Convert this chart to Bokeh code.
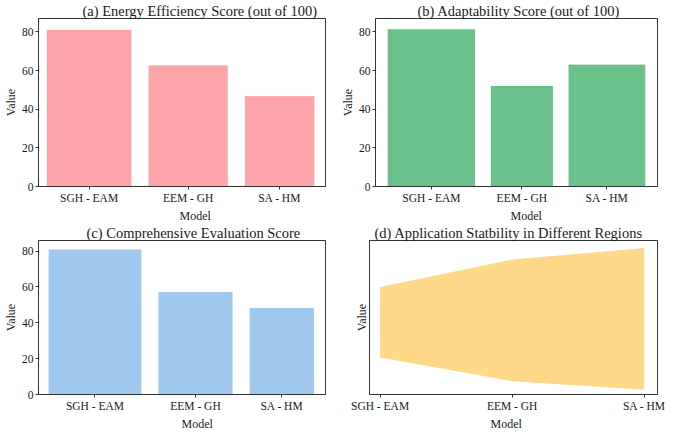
from bokeh.plotting import figure
from bokeh.layouts import column, row
from bokeh.models import Range1d, FixedTicker, Title
from bokeh.embed import file_html
from bokeh.resources import INLINE

# ---------------- data ----------------
categories = ["SGH - EAM", "EEM - GH", "SA - HM"]
energy_scores = [81.3, 62.9, 47.0]
adaptability_scores = [81.6, 52.3, 63.3]
comprehensive_scores = [81.2, 57.4, 48.5]
stability_upper = [0.35, 0.64, 0.76]
stability_lower = [-0.39, -0.64, -0.73]
value_ticks = [0, 20, 40, 60, 80]

# relative bar widths (variable-width bars)
energy_widths = [88.7, 83.0, 73.0]
adaptability_widths = [91.0, 65.0, 80.0]
comprehensive_widths = [97.7, 78.3, 68.3]

FONT = "Liberation Serif"
AX = "#333333"
TXT = "#1a1a1a"


def bar_centers(widths, gap):
    out = []
    x = 0.0
    for w in widths:
        out.append(round(x + w / 2.0, 2))
        x += w + gap
    return out, x - gap


def make_fig(w, h, left, right, top, bottom, xr, yr, title, title_offset, model_offset):
    p = figure(width=w, height=h, x_range=xr, y_range=yr,
               toolbar_location=None, tools="", output_backend="svg",
               min_border=0,
               min_border_left=left, min_border_right=right,
               min_border_top=top, min_border_bottom=bottom)
    p.grid.visible = False
    p.outline_line_color = AX
    p.outline_line_width = 1
    p.background_fill_color = "white"
    p.border_fill_color = "white"
    p.title.text = title
    p.title.align = "left"
    p.title.offset = title_offset
    p.title.standoff = 0
    p.title.text_font = FONT
    p.title.text_font_size = "14.5px"
    p.title.text_font_style = "normal"
    p.title.text_color = TXT
    for ax in (p.xaxis[0], p.yaxis[0]):
        ax.axis_line_color = AX
        ax.major_tick_line_color = AX
        ax.major_tick_in = 0
        ax.major_tick_out = 3
        ax.minor_tick_line_color = None
        ax.major_label_text_font = FONT
        ax.major_label_text_font_size = "11.5px"
        ax.major_label_text_color = TXT
        ax.major_label_standoff = 2
        ax.axis_label_text_font = FONT
        ax.axis_label_text_font_size = "12px"
        ax.axis_label_text_font_style = "normal"
        ax.axis_label_text_color = TXT
        ax.axis_label_standoff = 1
    p.xaxis[0].axis_label = None
    p.xaxis[0].axis_label_standoff = 0
    p.yaxis[0].axis_label = "Value"
    p.add_layout(Title(text="Model", align="left", offset=model_offset, standoff=0,
                       text_font=FONT, text_font_size="12px", text_font_style="normal",
                       text_color=TXT), "below")
    return p


def bar_panel(values, widths, gap, pad_l, pad_r, ymax, color, w, h, left, right, top, bottom,
              title, title_offset, model_offset):
    cx, total = bar_centers(widths, gap)
    p = make_fig(w, h, left, right, top, bottom,
                 Range1d(-pad_l, total + pad_r), Range1d(0, ymax), title, title_offset,
                 model_offset)
    p.vbar(x=cx, top=values, width=widths, bottom=0, fill_color=color,
           line_color="white", line_width=1)
    p.xaxis[0].ticker = FixedTicker(ticks=cx)
    p.xaxis[0].major_label_overrides = {c: lab for c, lab in zip(cx, categories)}
    p.yaxis[0].ticker = FixedTicker(ticks=value_ticks)
    return p


# (a)
pa = bar_panel(energy_scores, energy_widths, 16.7, 8, 11, 86.9, "#FDA4A9",
               337, 222, 31, 12, 11, 0,
               "(a) Energy Efficiency Score (out of 100)", 44, 141)
# (b)
pb = bar_panel(adaptability_scores, adaptability_widths, 15.0, 12, 12, 86.9, "#6BC18A",
               332, 222, 31, 12, 11, 0,
               "(b) Adaptability Score (out of 100)", 42, 135)
# (c)
pc = bar_panel(comprehensive_scores, comprehensive_widths, 16.7, 10, 11.3, 85.9, "#A0C8EF",
               337, 208, 31, 12, 11, 0,
               "(c) Comprehensive Evaluation Score", 48, 143)

# (d)
pd_ = make_fig(332, 208, 32, 12, 11, 0, Range1d(-0.08, 2.1), Range1d(-0.78, 0.84),
               "(d) Application Statbility in Different Regions", 5, 121)
pd_.varea(x=[0, 1, 2], y1=stability_lower, y2=stability_upper, fill_color="#FED98A")
pd_.xaxis[0].ticker = FixedTicker(ticks=[0, 1, 2])
pd_.xaxis[0].major_label_overrides = {i: lab for i, lab in enumerate(categories)}
pd_.yaxis[0].ticker = FixedTicker(ticks=[])

layout = column(row(pa, pb, spacing=0), row(pc, pd_, spacing=0), spacing=0)

open("out.html", "w").write(file_html(layout, INLINE))
